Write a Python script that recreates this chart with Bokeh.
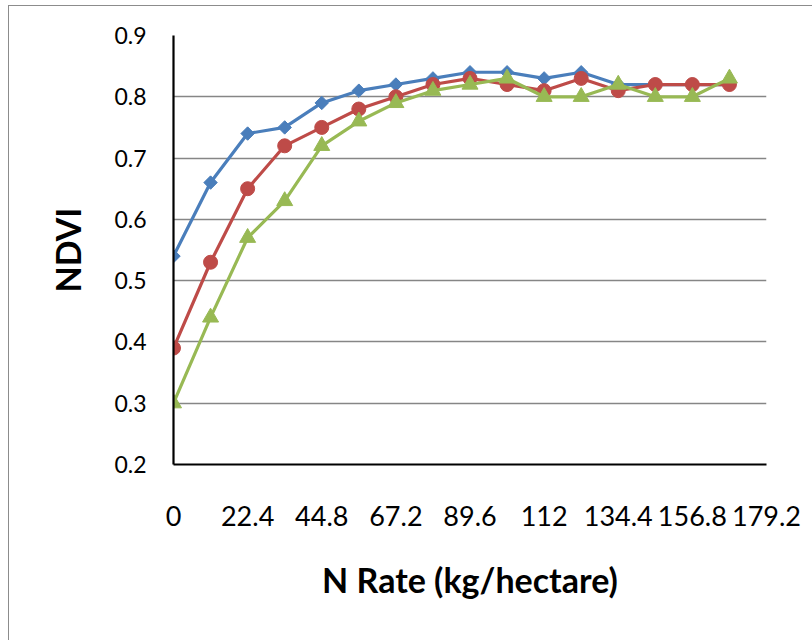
import numpy as np
from bokeh.plotting import figure
from bokeh.models import FixedTicker, Range1d
from bokeh.embed import file_html
from bokeh.resources import INLINE

# ---- data ----
n_rate = [0, 11.2, 22.4, 33.6, 44.8, 56, 67.2, 78.4, 89.6, 100.8, 112, 123.2, 134.4, 145.6, 156.8, 168]
ndvi_blue = [0.54, 0.66, 0.74, 0.75, 0.79, 0.81, 0.82, 0.83, 0.84, 0.84, 0.83, 0.84, 0.82, 0.82, 0.82, 0.82]
ndvi_red = [0.39, 0.53, 0.65, 0.72, 0.75, 0.78, 0.80, 0.82, 0.83, 0.82, 0.81, 0.83, 0.81, 0.82, 0.82, 0.82]
ndvi_green = [0.30, 0.44, 0.57, 0.63, 0.72, 0.76, 0.79, 0.81, 0.82, 0.83, 0.80, 0.80, 0.82, 0.80, 0.80, 0.83]

x_ticks = [0, 22.4, 44.8, 67.2, 89.6, 112, 134.4, 156.8, 179.2]
x_tick_labels = ["0", "22.4", "44.8", "67.2", "89.6", "112", "134.4", "156.8", "179.2"]
y_ticks = [0.2, 0.3, 0.4, 0.5, 0.6, 0.7, 0.8, 0.9]
y_tick_labels = ["0.2", "0.3", "0.4", "0.5", "0.6", "0.7", "0.8", "0.9"]

x_title = "N Rate (kg/hectare)"
y_title = "NDVI"

BLUE = "#4A7EBB"
RED = "#BE4B48"
GREEN = "#98B954"
FONT = "Lato"

p = figure(
    frame_width=593, frame_height=429,
    min_border_left=164, min_border_right=47,
    min_border_top=29, min_border_bottom=177,
    x_range=Range1d(0, 179.2), y_range=Range1d(0.2, 0.9),
    output_backend="svg", toolbar_location=None,
    margin=(5, 0, 0, 8),
    styles={"border-left": "1px solid #8c8c8c", "border-top": "1px solid #8c8c8c"},
    background_fill_color="white", border_fill_color="white",
    outline_line_color=None,
)

# grid
p.xgrid.visible = False
p.ygrid.ticker = FixedTicker(ticks=y_ticks)
p.ygrid.grid_line_color = "#868686"
p.ygrid.grid_line_width = 1.4

# axes
p.xaxis.ticker = FixedTicker(ticks=x_ticks)
p.xaxis.major_label_overrides = {t: l for t, l in zip(x_ticks, x_tick_labels)}
p.yaxis.ticker = FixedTicker(ticks=y_ticks)
p.yaxis.major_label_overrides = {t: l for t, l in zip(y_ticks, y_tick_labels)}

for ax in (p.xaxis[0], p.yaxis[0]):
    ax.axis_line_color = "black"
    ax.axis_line_width = 2.2
    ax.major_tick_line_color = None
    ax.minor_tick_line_color = None
    ax.major_tick_out = 0
    ax.major_tick_in = 0
    ax.major_label_text_font = FONT
    ax.major_label_text_color = "black"
    ax.axis_label_text_font = FONT
    ax.axis_label_text_font_style = "bold"
    ax.axis_label_text_color = "black"
    ax.axis_label_text_font_size = "34px"

p.xaxis.axis_label = x_title
p.xaxis.major_label_text_font_size = "27px"
p.xaxis.major_label_standoff = 41
p.xaxis.axis_label_standoff = 30

p.yaxis.axis_label = y_title
p.yaxis.major_label_text_font_size = "23px"
p.yaxis.major_label_standoff = 27
p.yaxis.axis_label_standoff = 23

# series (blue first, green on top)
p.line(n_rate, ndvi_blue, line_color=BLUE, line_width=3.2)
p.scatter(n_rate, ndvi_blue, marker="square", angle=np.pi / 4, size=9.5,
          fill_color=BLUE, line_color=BLUE)

p.line(n_rate, ndvi_red, line_color=RED, line_width=3.2)
p.scatter(n_rate, ndvi_red, marker="circle", size=14,
          fill_color=RED, line_color=RED)

p.line(n_rate, ndvi_green, line_color=GREEN, line_width=3.2)
p.scatter(n_rate, ndvi_green, marker="triangle", size=16,
          fill_color=GREEN, line_color=GREEN)

open("out.html", "w").write(file_html(p, INLINE))
